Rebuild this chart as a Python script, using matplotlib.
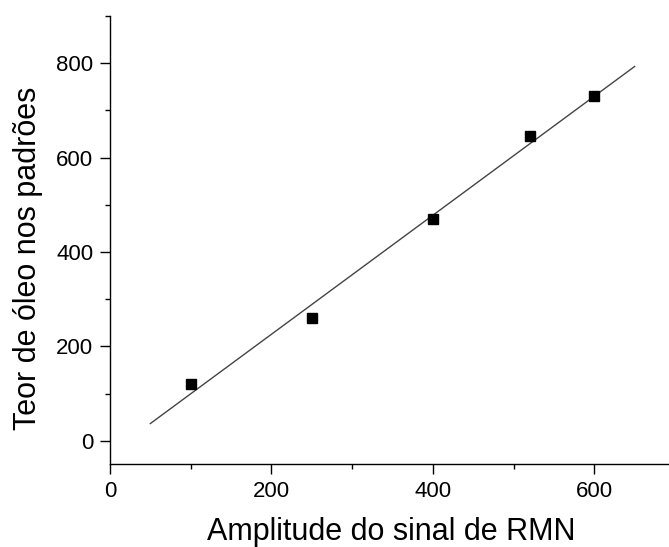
import numpy as np
import matplotlib
matplotlib.use("Agg")
import matplotlib.pyplot as plt
from matplotlib.ticker import MultipleLocator

# NMR signal amplitude vs oil content in the standards
amplitude = [100, 250, 400, 520, 600]
oil_content = [120, 260, 470, 645, 730]

# fit line drawn over this range
fit_range = [50, 650]

plt.rcParams['font.family'] = ['Liberation Sans', 'DejaVu Sans']

fig = plt.figure(figsize=(6.69, 5.47), dpi=100)
ax = fig.add_axes([0.1644, 0.1512, 1.009 - 0.1644, 0.9707 - 0.1512])

# Linear fit
slope, intercept = np.polyfit(amplitude, oil_content, 1)
xfit = np.array(fit_range)
ax.plot(xfit, slope * xfit + intercept, color="#444444", linewidth=1.0)

ax.plot(amplitude, oil_content, linestyle="none", marker="s", markersize=7,
        color="black")

ax.set_xlim(0, 700)
ax.set_ylim(-50, 900)
ax.xaxis.set_major_locator(MultipleLocator(200))
ax.xaxis.set_minor_locator(MultipleLocator(100))
ax.yaxis.set_major_locator(MultipleLocator(200))
ax.yaxis.set_minor_locator(MultipleLocator(100))

for side in ["top", "right"]:
    ax.spines[side].set_visible(False)
for side in ["left", "bottom"]:
    ax.spines[side].set_linewidth(1.0)

ax.tick_params(which="major", direction="out", length=7, width=1.0,
               labelsize=16, pad=5)
ax.tick_params(which="minor", direction="out", length=3.5, width=1.0)

ax.set_xlabel("Amplitude do sinal de RMN", fontsize=22)
ax.set_ylabel("Teor de óleo nos padrões", fontsize=22)
ax.xaxis.set_label_coords(0.497, -0.1176)
ax.yaxis.set_label_coords(-0.118, 0.459)

fig.savefig("out.png", dpi=100)
